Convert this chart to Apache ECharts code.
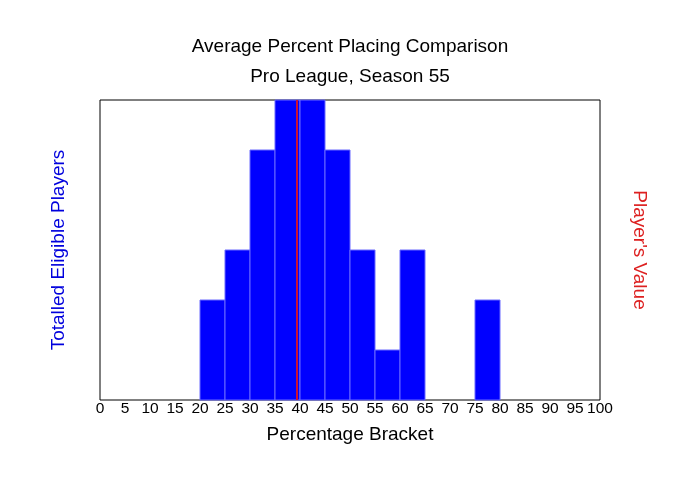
<!DOCTYPE html>
<html><head><meta charset="utf-8">
<script src="https://cdn.jsdelivr.net/npm/echarts@6/dist/echarts.min.js"></script>
<style>html,body{margin:0;padding:0;background:#fff}#c{width:700px;height:500px}</style>
</head><body><div id="c"></div>
<script>
const binStarts = [20, 25, 30, 35, 40, 45, 50, 55, 60, 75];
const binWidth = 5;
const counts = [2, 3, 5, 6, 6, 5, 3, 1, 3, 2];
const playerValue = 39.3;
const xTicks = [0,5,10,15,20,25,30,35,40,45,50,55,60,65,70,75,80,85,90,95,100];

const data = binStarts.map((s, i) => [s, s + binWidth, counts[i]]);
const chart = echarts.init(document.getElementById('c'), null, {renderer: 'canvas'});
const font = 'Liberation Sans, Arial, sans-serif';
chart.setOption({
  animation: false,
  backgroundColor: '#fff',
  title: [
    {text: 'Average Percent Placing Comparison', left: 'center', top: 32, textStyle: {fontFamily: font, fontSize: 19, fontWeight: 'normal', color: '#000'}},
    {text: 'Pro League, Season 55', left: 'center', top: 62, textStyle: {fontFamily: font, fontSize: 19, fontWeight: 'normal', color: '#000'}}
  ],
  grid: {left: 100, right: 100, top: 100, bottom: 100, show: true, borderColor: '#000', borderWidth: 1, backgroundColor: '#fff'},
  xAxis: {
    type: 'value', min: 0, max: 100, interval: 5,
    name: 'Percentage Bracket', nameLocation: 'middle', nameGap: 25,
    nameTextStyle: {fontFamily: font, fontSize: 19, color: '#000'},
    axisLine: {show: false}, axisTick: {show: false}, splitLine: {show: false},
    axisLabel: {fontFamily: font, fontSize: 15.5, color: '#000', margin: 1,
      formatter: v => xTicks.includes(v) ? String(v) : ''}
  },
  yAxis: [
    {type: 'value', min: 0, max: 6, position: 'left',
     name: 'Totalled Eligible Players', nameLocation: 'middle', nameGap: 32, nameRotate: 90,
     nameTextStyle: {fontFamily: font, fontSize: 19, color: '#0000dd'},
     axisLine: {show: false}, axisTick: {show: false}, axisLabel: {show: false}, splitLine: {show: false}},
    {type: 'value', min: 0, max: 6, position: 'right',
     name: "Player's Value", nameLocation: 'middle', nameGap: 30, nameRotate: -90,
     nameTextStyle: {fontFamily: font, fontSize: 19, color: '#dd2020'},
     axisLine: {show: false}, axisTick: {show: false}, axisLabel: {show: false}, splitLine: {show: false}}
  ],
  series: [
    {
      type: 'custom',
      data: data,
      encode: {x: [0, 1], y: 2},
      renderItem: function (params, api) {
        const p0 = api.coord([api.value(0), 0]);
        const p1 = api.coord([api.value(1), api.value(2)]);
        return {
          type: 'rect',
          shape: {x: p0[0], y: p1[1], width: p1[0] - p0[0], height: p0[1] - p1[1]},
          style: {fill: '#0000ff', stroke: '#6a6aff', lineWidth: 1}
        };
      },
      markLine: {
        silent: true, symbol: 'none', label: {show: false},
        lineStyle: {color: '#cc1133', width: 2, type: 'solid'},
        data: [{xAxis: playerValue}]
      },
      z: 2
    }
  ]
});
</script></body></html>
